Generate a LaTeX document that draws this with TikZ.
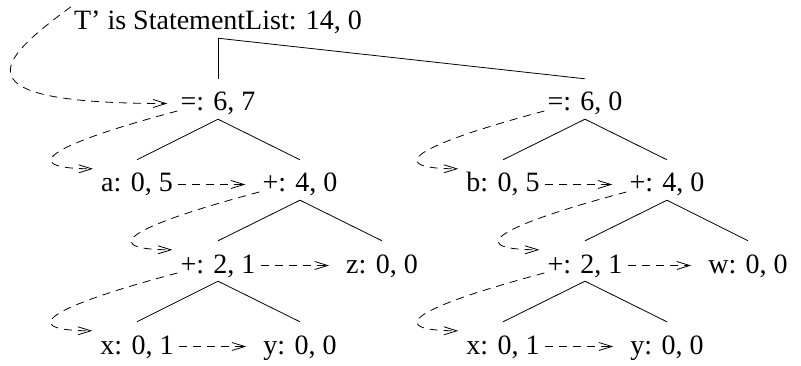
\documentclass[tikz,border=0pt]{standalone}
\usepackage{fontspec}
\setmainfont{Liberation Serif}
\usetikzlibrary{arrows.meta}

\tikzset{
  val/.style={anchor=base, inner xsep=3pt, inner ysep=3pt, text height=20pt, text depth=5pt},
  branch/.style={line width=0.8pt},
  thread/.style={line width=0.8pt, dash pattern=on 8pt off 6pt, ->},
  sibling/.style={thread, shorten <=2pt, shorten >=14pt},
  descend/.style={thread, shorten >=5pt},
}

\begin{document}
\begin{tikzpicture}[x=1pt, y=-1pt, font=\fontsize{28}{30}\selectfont,
    >={Straight Barb[length=13pt,width=8pt]}]
  \useasboundingbox (0,0) rectangle (801,366);

  \node[val] (root) at (218,30) {T’ is StatementList: 14, 0};

  % left statement
  \node[val] (eqa) at (218,111) {=: 6, 7};
  \node[val] (a)   at (137,192) {a: 0, 5};
  \node[val] (pla) at (300,192) {+: 4, 0};
  \node[val] (plb) at (218,273) {+: 2, 1};
  \node[val] (z)   at (382,273) {z: 0, 0};
  \node[val] (xa)  at (137,354) {x: 0, 1};
  \node[val] (ya)  at (300,354) {y: 0, 0};

  % right statement
  \node[val] (eqb) at (585,111) {=: 6, 0};
  \node[val] (b)   at (503,192) {b: 0, 5};
  \node[val] (plc) at (667,192) {+: 4, 0};
  \node[val] (pld) at (585,273) {+: 2, 1};
  \node[val] (w)   at (748,273) {w: 0, 0};
  \node[val] (xb)  at (503,354) {x: 0, 1};
  \node[val] (yb)  at (667,354) {y: 0, 0};

  % tree
  \draw[branch] (root.south) -- ([yshift=9pt]eqa.north);
  \draw[branch] (root.south) -- ([yshift=9pt]eqb.north);
  \foreach \p/\c in {eqa/a, eqa/pla, pla/plb, pla/z, plb/xa, plb/ya,
                     eqb/b, eqb/plc, plc/pld, plc/w, pld/xb, pld/yb}
    \draw[branch] (\p.south) -- ([yshift=9pt]\c.north);

  % threads
  \draw[thread, shorten >=10pt] (root.north west) .. controls +(-75,55) and +(-222,0) .. (eqa.west);
  \foreach \p/\c in {eqa/a, pla/plb, plb/xa, eqb/b, plc/pld, pld/xb}
    \draw[descend] (\p.base west) .. controls +(-150,40) and +(-70,0) .. (\c.north west);
  \foreach \p/\c in {a/pla, plb/z, xa/ya, b/plc, pld/w, xb/yb}
    \draw[sibling] (\p.east) -- (\c.west);
\end{tikzpicture}
\end{document}
